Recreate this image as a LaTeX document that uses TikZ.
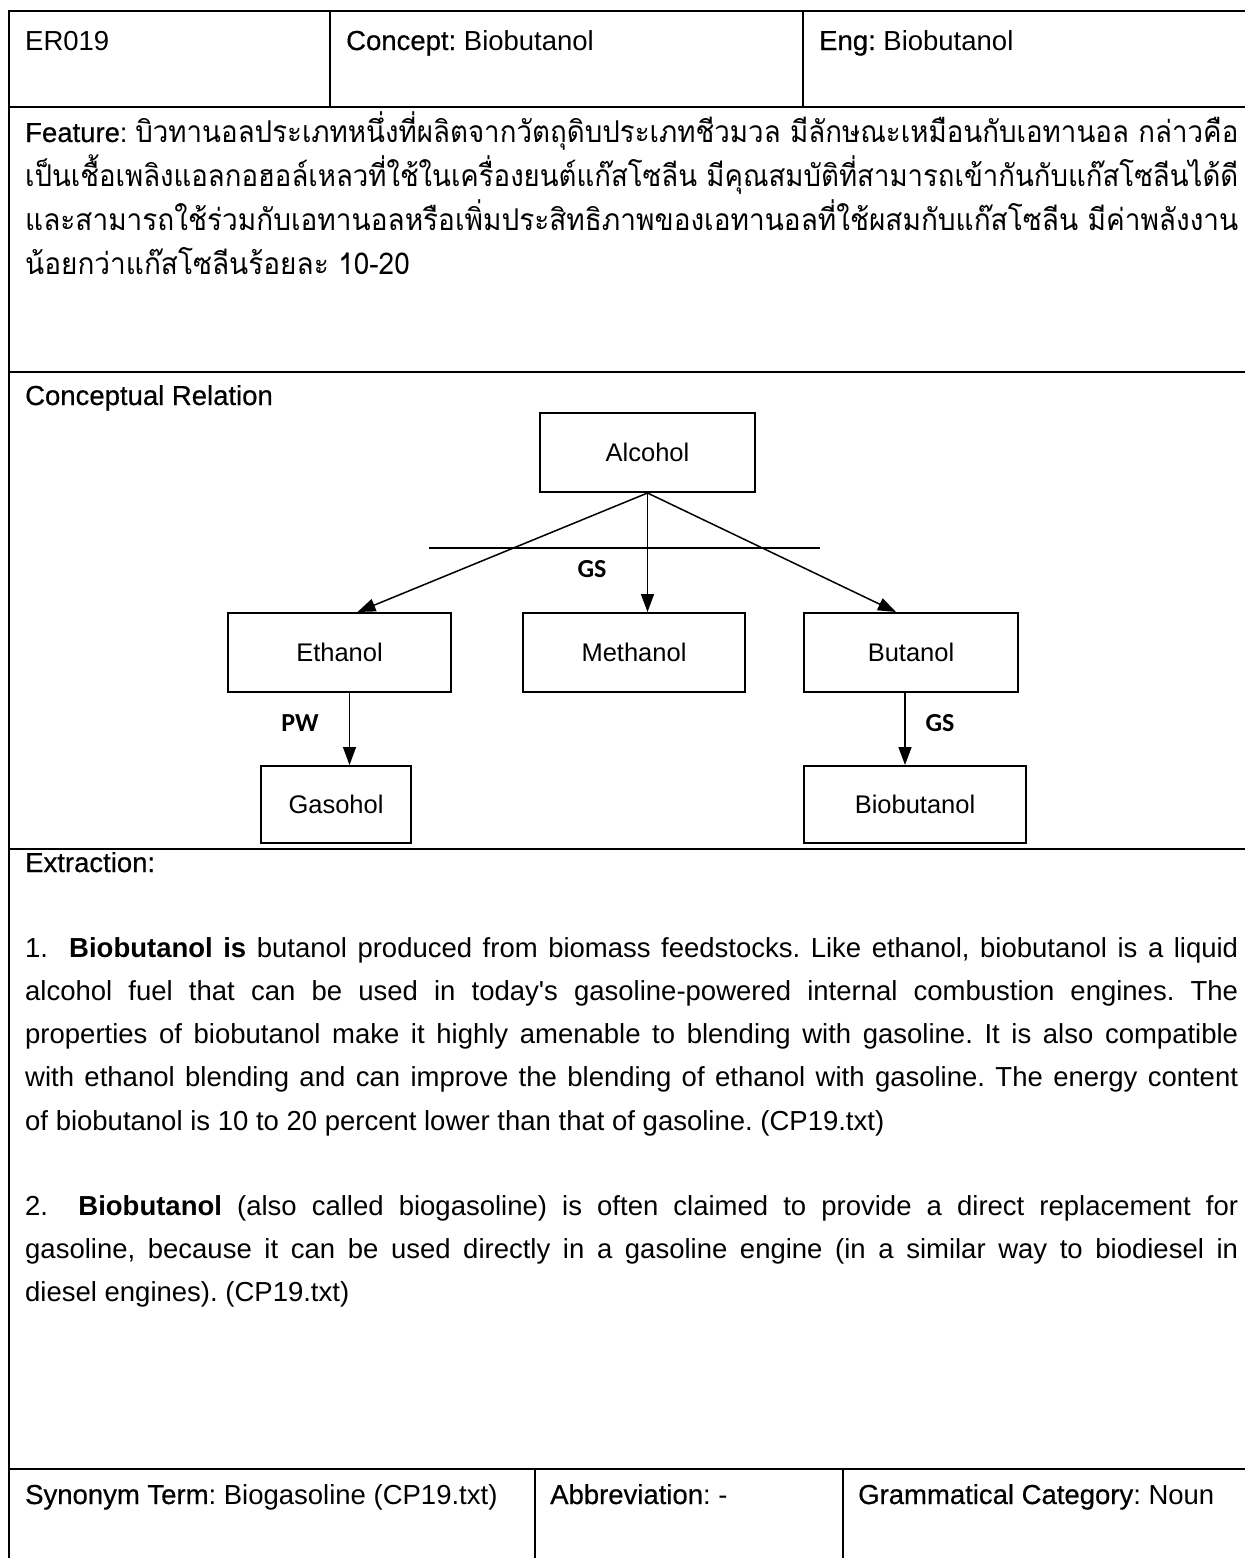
\documentclass[tikz,border=0pt]{standalone}
\usepackage{fontspec}
\usepackage{graphicx}
\setmainfont{Liberation Sans}
\newfontfamily\lblfont{Liberation Sans}[FakeBold=0.45]
\newfontfamily\thaifont[Script=Thai]{Loma}
\newfontfamily\tagfont{Carlito}
\usetikzlibrary{arrows.meta}

\newsavebox\featlbl
\newsavebox\thaiC
\newlength\linew
\setlength\linew{1213pt}
\newcommand\lbl[1]{{\lblfont #1}}
% one justified line of running text
\newcommand\just[1]{\hbox to \linew{\spaceskip=0.278em plus 3em minus 0.06em\relax #1}}
\frenchspacing

\begin{document}
\sbox\featlbl{\fontsize{27.5}{32}\selectfont \lbl{Feature}: }%
\sbox\thaiC{\thaifont\fontsize{30}{34}\selectfont และสามารถใช้ร่วมกับเอทานอลหรือเพิ่มประสิทธิภาพของเอทานอลที่ใช้ผสมกับแก๊สโซลีน มีค่าพลังงาน}%
\pgfmathsetmacro\thsc{\linew/\wd\thaiC}%
\begin{tikzpicture}[x=1pt,y=-1pt,
  rule/.style={line width=2.2pt},
  txt/.style={anchor=base west,inner sep=0pt,font=\fontsize{27.5}{32}\selectfont},
  cbox/.style={draw,line width=2pt,inner sep=0pt,minimum height=79pt,
    font=\fontsize{25.5}{30}\selectfont},
  rel/.style={line width=1.5pt,-{Triangle[length=18pt,width=13pt]}},
  tag/.style={inner sep=0pt,font=\tagfont\bfseries\fontsize{26}{30}\selectfont}
]
\useasboundingbox (0,0) rectangle (1245,1558);
\fill[white] (0,0) rectangle (1245,1558);

% ---- table rules ----
\draw[rule] (9,11) -- (1245,11);
\draw[rule] (9,107) -- (1245,107);
\draw[rule] (9,372) -- (1245,372);
\draw[rule] (9,849) -- (1245,849);
\draw[rule] (9,1469) -- (1245,1469);
\draw[rule] (9,9.9) -- (9,1558);
\draw[rule] (330,11) -- (330,107);
\draw[rule] (803,11) -- (803,107);
\draw[rule] (535,1469) -- (535,1558);
\draw[rule] (843,1469) -- (843,1558);

% ---- header row ----
\node[txt] (id)  at (25,50)  {ER019};
\node[txt] (con) at (346,50) {\lbl{Concept:} Biobutanol};
\node[txt] (eng) at (819,50) {\lbl{Eng:} Biobutanol};

% ---- feature ----
\node[txt] (f1) at (25,142) {\usebox\featlbl\resizebox{\dimexpr\linew-\wd\featlbl\relax}{\height}{\thaifont\fontsize{30}{34}\selectfont บิวทานอลประเภทหนึ่งที่ผลิตจากวัตถุดิบประเภทชีวมวล มีลักษณะเหมือนกับเอทานอล กล่าวคือ}};
\node[txt] (f2) at (25,186) {\resizebox{\linew}{\height}{\thaifont\fontsize{30}{34}\selectfont เป็นเชื้อเพลิงแอลกอฮอล์เหลวที่ใช้ในเครื่องยนต์แก๊สโซลีน มีคุณสมบัติที่สามารถเข้ากันกับแก๊สโซลีนได้ดี}};
\node[txt] (f3) at (25,230) {\resizebox{\linew}{\height}{\usebox\thaiC}};
\node[txt] (f4) at (25,274) {\scalebox{\thsc}[1]{\thaifont\fontsize{30}{34}\selectfont น้อยกว่าแก๊สโซลีนร้อยละ 10-20}};

% ---- conceptual relation ----
\node[txt] (cr) at (25,405) {\lbl{Conceptual Relation}};

\node[cbox,minimum width=215pt] (alc) at (647.5,452.5) {Alcohol};
\node[cbox,minimum width=223pt] (eth) at (339.5,652.5) {Ethanol};
\node[cbox,minimum width=222pt] (met) at (634,652.5) {Methanol};
\node[cbox,minimum width=214pt] (but) at (911,652.5) {Butanol};
\node[cbox,minimum width=150pt,minimum height=77pt] (gas) at (336,804.5) {Gasohol};
\node[cbox,minimum width=222pt,minimum height=77pt] (bio) at (915,804.5) {Biobutanol};

\draw[rel] (alc.south) -- ([xshift=18pt]eth.north);
\draw[rel] (alc.south) -- (alc.south |- met.north);
\draw[rel] (alc.south) -- ([xshift=-15pt]but.north);
\draw[rel] ([xshift=10pt]eth.south) -- ([xshift=10pt]eth.south |- gas.north);
\draw[rel] ([xshift=-6pt]but.south) -- ([xshift=-6pt]but.south |- bio.north);

\coordinate (barL) at (429,548);
\coordinate (barR) at (820,548);
\draw[line width=1.5pt] (barL) -- (barR);
\node[tag] (gsA) at (592,569) {GS};
\node[tag] (pw)  at (300,723) {PW};
\node[tag] (gsB) at (940,723) {GS};

% ---- extraction ----
\node[txt] (ex) at (25,872) {\lbl{Extraction:}};
\node[txt] (a1) at (25,957)  {\just{1.\ \ \textbf{Biobutanol is} butanol produced from biomass feedstocks. Like ethanol, biobutanol is a liquid}};
\node[txt] (a2) at (25,1000) {\just{alcohol fuel that can be used in today\textquotesingle s gasoline-powered internal combustion engines. The}};
\node[txt] (a3) at (25,1043) {\just{properties of biobutanol make it highly amenable to blending with gasoline. It is also compatible}};
\node[txt] (a4) at (25,1086) {\just{with ethanol blending and can improve the blending of ethanol with gasoline. The energy content}};
\node[txt] (a5) at (25,1130) {of biobutanol is 10 to 20 percent lower than that of gasoline. (CP19.txt)};
\node[txt] (b1) at (25,1215) {\just{2.\ \ \textbf{Biobutanol} (also called biogasoline) is often claimed to provide a direct replacement for}};
\node[txt] (b2) at (25,1258) {\just{gasoline, because it can be used directly in a gasoline engine (in a similar way to biodiesel in}};
\node[txt] (b3) at (25,1301) {diesel engines). (CP19.txt)};

% ---- bottom row ----
\node[txt] (syn) at (25,1504)  {\lbl{Synonym Term}: Biogasoline (CP19.txt)};
\node[txt] (abb) at (550,1504) {\lbl{Abbreviation}: -};
\node[txt] (gram) at (858,1504) {\lbl{Grammatical Category}: Noun};
\end{tikzpicture}
\end{document}
